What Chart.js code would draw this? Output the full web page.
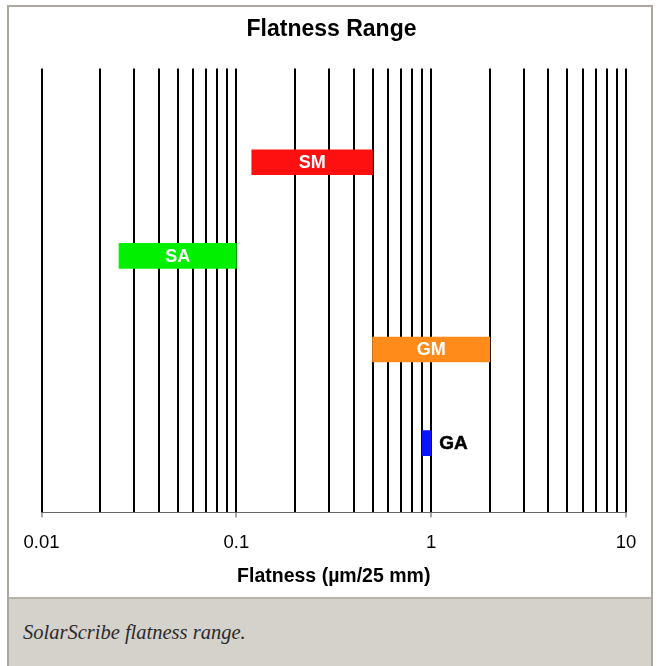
<!DOCTYPE html>
<html>
<head>
<meta charset="utf-8">
<script src="https://cdn.jsdelivr.net/npm/chart.js@4"></script>
<style>
  html, body { margin: 0; padding: 0; background: #ffffff; }
  #frame {
    position: absolute; left: 7px; top: 5px; width: 642px;
    border: 2px solid #aca79f; background: #ffffff;
  }
  #chart-wrap { position: relative; width: 642px; height: 590px; }
  #caption {
    height: 80px; background: #d5d1cb; border-top: 2px solid #b8b3ab;
    font-family: "Liberation Serif", "DejaVu Serif", serif; font-style: italic;
    font-size: 20.5px; color: #2b2b2b; padding: 22px 0 0 14px; box-sizing: border-box;
  }
</style>
</head>
<body>
<div id="frame">
  <div id="chart-wrap"><canvas id="chart"></canvas></div>
  <div id="caption">SolarScribe flatness range.</div>
</div>
<script>
// --- Data ---
const categories = ["SM", "SA", "GM", "GA"];
const rowIndex = [1, 2, 3, 4];
const lowValues = [0.12, 0.025, 0.5, 0.9];
const highValues = [0.5, 0.1, 2, 1];
const barColors = ["#ff1010", "#00f000", "#ff8c1a", "#0a14ff"];
const gridValues = [
  0.01, 0.02, 0.03, 0.04, 0.05, 0.06, 0.07, 0.08, 0.09,
  0.1, 0.2, 0.3, 0.4, 0.5, 0.6, 0.7, 0.8, 0.9,
  1, 2, 3, 4, 5, 6, 7, 8, 9, 10
];
const tickLabels = ["0.01", "0.1", "1", "10"];

const fontFamily = "'Liberation Sans', Arial, sans-serif";

// draws the white names inside bars (or black beside tiny bars)
const barLabels = {
  id: "barLabels",
  afterDatasetsDraw(chart) {
    const ctx = chart.ctx;
    const meta = chart.getDatasetMeta(0);
    ctx.save();
    ctx.textBaseline = "middle";
    meta.data.forEach((bar, i) => {
      const left = Math.min(bar.x, bar.base);
      const right = Math.max(bar.x, bar.base);
      if (right - left > 40) {
        ctx.font = "bold 18px " + fontFamily;
        ctx.fillStyle = "#ffffff";
        ctx.textAlign = "center";
        ctx.fillText(categories[i], (left + right) / 2, bar.y + 1);
      } else {
        ctx.font = "bold 19px " + fontFamily;
        ctx.fillStyle = "#000000";
        ctx.strokeStyle = "#000000";
        ctx.lineWidth = 0.5;
        ctx.textAlign = "left";
        ctx.fillText(categories[i], right + 8, bar.y + 1);
        ctx.strokeText(categories[i], right + 8, bar.y + 1);
      }
    });
    ctx.restore();
  }
};

const isMajor = (v) => tickLabels.some((t) => Math.abs(parseFloat(t) - v) < 1e-9);

new Chart(document.getElementById("chart"), {
  type: "bar",
  data: {
    datasets: [{
      data: rowIndex.map((y, i) => ({ y: y, x: [lowValues[i], highValues[i]] })),
      backgroundColor: barColors,
      borderWidth: 0,
      borderSkipped: false,
      barThickness: 25
    }]
  },
  options: {
    indexAxis: "y",
    responsive: true,
    maintainAspectRatio: false,
    animation: false,
    layout: { padding: { left: 28, right: 25, top: 0, bottom: 9 } },
    plugins: {
      legend: { display: false },
      tooltip: { enabled: false },
      title: {
        display: true,
        text: "Flatness Range",
        color: "#000000",
        font: { family: fontFamily, size: 23, weight: "bold" },
        padding: { top: 9, bottom: 25 }
      }
    },
    scales: {
      x: {
        type: "logarithmic",
        min: 0.01,
        max: 10,
        afterBuildTicks: (scale) => {
          scale.ticks = gridValues.map((v) => ({ value: v, major: isMajor(v) }));
        },
        ticks: {
          autoSkip: false,
          maxRotation: 0,
          padding: 14.5,
          color: "#000000",
          font: { family: fontFamily, size: 18.5 },
          callback: (v) => {
            const idx = tickLabels.findIndex((t) => Math.abs(parseFloat(t) - v) < 1e-9);
            return idx >= 0 ? tickLabels[idx] : "";
          }
        },
        grid: {
          color: "#000000",
          lineWidth: 2,
          drawTicks: true,
          tickLength: 5,
          tickWidth: 1,
          tickColor: (c) => (c.tick && isMajor(c.tick.value) ? "#555555" : "rgba(0,0,0,0)")
        },
        border: { display: true, color: "#666666", width: 1 },
        title: {
          display: true,
          text: "Flatness (µm/25 mm)",
          color: "#000000",
          font: { family: fontFamily, size: 19.5, weight: "bold" },
          padding: { top: -4, bottom: 0 }
        }
      },
      y: {
        type: "linear",
        display: false,
        reverse: true,
        offset: false,
        min: 0,
        max: 4.74
      }
    }
  },
  plugins: [barLabels]
});
</script>
</body>
</html>
